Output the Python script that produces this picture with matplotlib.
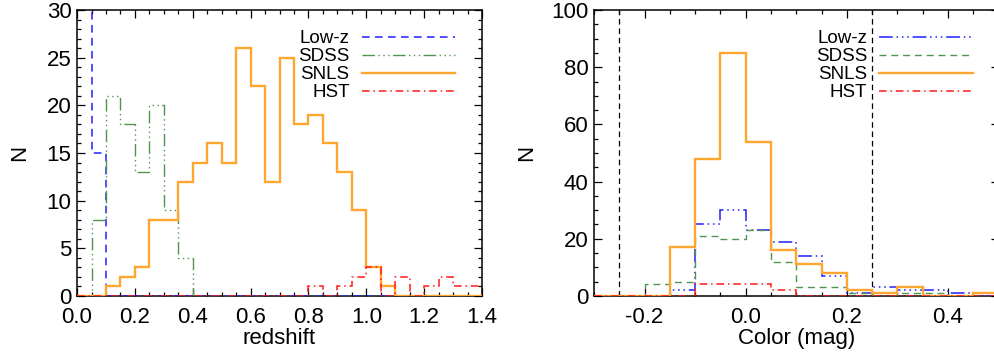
import matplotlib
matplotlib.use("Agg")
import matplotlib.pyplot as plt
import numpy as np

plt.rcParams['font.family'] = ['Liberation Sans', 'DejaVu Sans']

# redshift histogram, bins of 0.05 starting at 0.0
z_start, z_width = 0.0, 0.05
lowz_z = [114, 15, 0, 0, 0, 0, 0, 0, 0, 0, 0, 0, 0, 0,
          0, 0, 0, 0, 0, 0, 0, 0, 0, 0, 0, 0, 0, 0]
sdss_z = [0, 8, 21, 18, 13, 20, 9, 4, 0, 0, 0, 0, 0, 0,
          0, 0, 0, 0, 0, 0, 0, 0, 0, 0, 0, 0, 0, 0]
snls_z = [0, 0, 1, 2, 3, 8, 8, 12, 14, 16, 14, 26, 22, 12,
          25, 18, 19, 16, 13, 9, 3, 1, 0, 0, 0, 0, 0, 0]
hst_z = [0, 0, 0, 0, 0, 0, 0, 0, 0, 0, 0, 0, 0, 0,
         0, 0, 1, 0, 1, 2, 3, 0, 2, 0, 1, 2, 1, 1]

# color histogram, bins of 0.05 starting at -0.3
c_start, c_width = -0.3, 0.05
lowz_c = [0, 0, 0, 2, 25, 30, 23, 19, 14, 7, 1, 3, 2, 2, 1, 0]
sdss_c = [0, 0, 4, 5, 21, 20, 23, 12, 3, 3, 1, 0, 1, 1, 0, 0]
snls_c = [0, 0, 0, 17, 48, 85, 54, 16, 11, 8, 2, 1, 3, 0, 0, 1]
hst_c = [0, 0, 0, 0, 4, 4, 4, 2, 0, 0, 0, 0, 0, 0, 0, 0]
color_cuts = [-0.25, 0.25]

labels = ['Low-z', 'SDSS', 'SNLS', 'HST']

BLUE = '#1f1fff'
GREEN = '#4f944f'
ORANGE = '#ffa630'
RED = '#ff1a1a'

dashed = (0, (5, 3.5))
dash3dot = (0, (9, 2.5, 1, 2.5, 1, 2.5, 1, 2.5))
dashdot = (0, (5, 2.5, 1, 2.5))

styles_z = [(BLUE, dashed, 1.1), (GREEN, dash3dot, 1.0),
            (ORANGE, '-', 1.7), (RED, dashdot, 1.1)]
styles_c = [(BLUE, dash3dot, 1.1), (GREEN, dashed, 1.0),
            (ORANGE, '-', 1.7), (RED, dashdot, 1.1)]


def edges_for(vals, start, width):
    return start + width * np.arange(len(vals) + 1)


def style_axes(ax):
    for s in ax.spines.values():
        s.set_linewidth(1.1)
    ax.tick_params(which='both', direction='in', top=True, right=True,
                   labelsize=16, width=0.9)
    ax.tick_params(which='major', length=5.5)
    ax.tick_params(which='minor', length=3)
    ax.tick_params(axis='x', pad=8)
    ax.tick_params(axis='y', pad=4)


fig = plt.figure(figsize=(9.94, 3.6), dpi=100)
ax1 = fig.add_axes([0.0775, 0.178, 0.4075, 0.794])
ax2 = fig.add_axes([0.5976, 0.178, 0.407, 0.794])

legend_kw = dict(loc='upper right', frameon=False, markerfirst=False,
                 fontsize=13.5, handlelength=5.0, handletextpad=0.64,
                 labelspacing=0.05, borderaxespad=0, borderpad=0)

# left: redshift
for vals, lab, (col, ls, lw) in zip([lowz_z, sdss_z, snls_z, hst_z], labels, styles_z):
    ax1.stairs(vals, edges_for(vals, z_start, z_width), baseline=None,
               color=col, linestyle=ls, linewidth=lw, label=lab, zorder=3)
ax1.set_xlim(0, 1.4)
ax1.set_ylim(0, 30)
ax1.set_xticks(np.arange(0, 1.41, 0.2))
ax1.set_xticks(np.arange(0, 1.41, 0.05), minor=True)
ax1.set_yticks(np.arange(0, 31, 5))
ax1.set_yticks(np.arange(0, 31, 1), minor=True)
ax1.xaxis.set_major_formatter(matplotlib.ticker.FormatStrFormatter('%.1f'))
ax1.set_xlabel('redshift', fontsize=16, labelpad=0)
ax1.set_ylabel('N', fontsize=16, labelpad=12)
style_axes(ax1)
ax1.legend(bbox_to_anchor=(0.934, 0.93), **legend_kw)

# right: color
for x in color_cuts:
    ax2.axvline(x, color='black', linestyle=(0, (4.5, 3)), linewidth=0.9, zorder=2)
for vals, lab, (col, ls, lw) in zip([lowz_c, sdss_c, snls_c, hst_c], labels, styles_c):
    ax2.stairs(vals, edges_for(vals, c_start, c_width), baseline=None,
               color=col, linestyle=ls, linewidth=lw, label=lab, zorder=3)
ax2.set_xlim(-0.3, 0.5)
ax2.set_ylim(0, 100)
ax2.set_xticks([-0.2, 0.0, 0.2, 0.4])
ax2.set_xticks(np.arange(-0.3, 0.51, 0.05), minor=True)
ax2.set_yticks(np.arange(0, 101, 20))
ax2.set_yticks(np.arange(0, 101, 5), minor=True)
ax2.xaxis.set_major_formatter(matplotlib.ticker.FormatStrFormatter('%.1f'))
ax2.set_xlabel('Color (mag)', fontsize=16, labelpad=0)
ax2.set_ylabel('N', fontsize=16, labelpad=10)
style_axes(ax2)
ax2.legend(bbox_to_anchor=(0.937, 0.93), **legend_kw)

fig.savefig('out.png', dpi=100)
